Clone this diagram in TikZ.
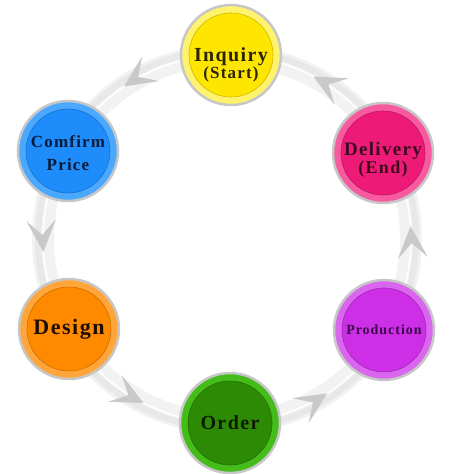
\documentclass[tikz,border=0pt]{standalone}
\usepackage{fontspec}
\newfontfamily\stagefont[LetterSpace=7]{Liberation Serif}
\usetikzlibrary{positioning}

\definecolor{inqmain}{HTML}{FFE600}
\definecolor{inqband}{HTML}{FFF36E}
\definecolor{inqtext}{HTML}{2A2500}
\definecolor{cfmmain}{HTML}{1E8CFA}
\definecolor{cfmband}{HTML}{4AA8FF}
\definecolor{cfmtext}{HTML}{0B1C3A}
\definecolor{dlvmain}{HTML}{EE1A78}
\definecolor{dlvband}{HTML}{F75A9E}
\definecolor{dlvtext}{HTML}{3D0A1E}
\definecolor{dsgmain}{HTML}{FF8A00}
\definecolor{dsgband}{HTML}{FFA53A}
\definecolor{dsgtext}{HTML}{1E0E00}
\definecolor{prdmain}{HTML}{CC2FE6}
\definecolor{prdband}{HTML}{DA66F0}
\definecolor{prdtext}{HTML}{3B0A4A}
\definecolor{ordmain}{HTML}{2C8A04}
\definecolor{ordband}{HTML}{44BC1A}
\definecolor{ordtext}{HTML}{0D1A00}

\begin{document}
\begin{tikzpicture}[x=1pt, y=1pt,
    stage/.style n args={3}{circle, minimum size=100pt, inner sep=0pt, draw=black!22, line width=2.5pt,
        fill=#2, text=#3, align=center,
        path picture={\fill[#1] (path picture bounding box.center) circle (42pt);
                      \draw[#1!80!black, line width=0.6pt] (path picture bounding box.center) circle (42pt);}},
    stagetext/.style={align=center, inner sep=0pt},
    ring/.style={draw=black!5, line width=22pt},
    chevron/.style={fill=black!21}]
    \useasboundingbox (-227,-235) rectangle (247,239);

    % the ring and its arrowheads
    \draw[ring] (0,0) circle (184);
    \draw[black!9, line width=6pt] (0,0) circle (189);
    \draw[white, line width=1.5pt] (0,0) circle (184);
    \foreach \a in {124,184,243,303,4,62}
        \fill[chevron, shift={(\a:184)}, rotate=\a+90] (0,0) -- (-32,15) -- (-17,0) -- (-32,-15) -- cycle;

    % the stages
    \node[stage={inqmain}{inqband}{inqtext}] (inquiry) at (4,184) {};
    \node[stage={cfmmain}{cfmband}{cfmtext}] (confirm) at (-159,88) {};
    \node[stage={dsgmain}{dsgband}{dsgtext}] (design) at (-158,-90)
        {\fontsize{22}{22}\selectfont\stagefont\bfseries Design};
    \node[stage={ordmain}{ordband}{ordtext}] (order) at (3,-184)
        {\fontsize{20}{20}\selectfont\stagefont\bfseries Order};
    \node[stage={prdmain}{prdband}{prdtext}] (production) at (157,-91)
        {\fontsize{14}{14}\selectfont\stagefont\bfseries Production};
    \node[stage={dlvmain}{dlvband}{dlvtext}] (delivery) at (156,86) {};

    % two-line labels sit a little low in their circles
    \node[stagetext, text=inqtext, font=\stagefont\bfseries\fontsize{20}{16}\selectfont] (inquiry-text)
        at ([yshift=-10]inquiry.center) {Inquiry\\{\fontsize{17}{16}\selectfont (Start)}};
    \node[stagetext, text=cfmtext, font=\stagefont\bfseries\fontsize{17}{23}\selectfont] (confirm-text)
        at ([yshift=-2]confirm.center) {Comfirm\\Price};
    \node[stagetext, text=dlvtext, font=\stagefont\bfseries\fontsize{19}{18}\selectfont] (delivery-text)
        at ([yshift=-7]delivery.center) {Delivery\\{\fontsize{18}{18}\selectfont (End)}};
\end{tikzpicture}
\end{document}
